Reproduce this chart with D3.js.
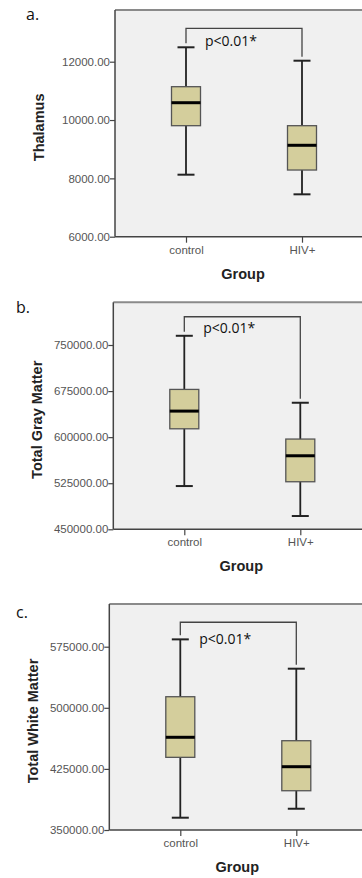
<!DOCTYPE html>
<html lang="en">
<head>
<script src="https://d3js.org/d3.v7.min.js"></script>
<style>
html, body { margin: 0; padding: 0; background: #fff; overflow: hidden; }
svg { display: block; }
svg text { font-family: "Liberation Sans", Arial, sans-serif; }
</style>
</head>
<body>
<script>
// groups on the x axis
var groups = ["control", "HIV+"];

// box stats per group: [min, q1, median, q3, max]
var thalamusStats = [[8126, 9806, 10594, 11143, 12494], [7453, 8286, 9134, 9806, 12034]];
var grayStats = [[520400, 613600, 642400, 677700, 765000], [471600, 527400, 569700, 596900, 656000]];
var whiteStats = [[365100, 439200, 463800, 513600, 584000], [376100, 398200, 427700, 459600, 548000]];

// tick values
var thalamusTicks = [6000, 8000, 10000, 12000];
var grayTicks = [450000, 525000, 600000, 675000, 750000];
var whiteTicks = [350000, 425000, 500000, 575000];

// significance bracket tops (data units)
var bracketTops = [13145, 796000, 605000];
var pLabel = "p<0.01*";

var width = 362, height = 878;
var svg = d3.select("body").append("svg")
  .attr("width", width)
  .attr("height", height);

// panel layout: left edge, frame top, axis bottom, pixel of top tick
var panels = [
  { tag: "a.", title: "Thalamus", stats: thalamusStats, ticks: thalamusTicks, left: 115, top: 10, bottom: 236.7, topTickY: 61.7, tagX: 26, tagY: 20, pDy: 18 },
  { tag: "b.", title: "Total Gray Matter", stats: grayStats, ticks: grayTicks, left: 113.3, top: 302.3, bottom: 529.3, topTickY: 345, tagX: 16, tagY: 313, pDy: 16 },
  { tag: "c.", title: "Total White Matter", stats: whiteStats, ticks: whiteTicks, left: 109.3, top: 604, bottom: 830, topTickY: 646.7, tagX: 16, tagY: 618, pDy: 22 }
];

panels.forEach(function(p, pi) {
  var g = svg.append("g");
  var y = d3.scaleLinear()
    .domain([p.ticks[0], p.ticks[p.ticks.length - 1]])
    .range([p.bottom, p.topTickY]);
  var x = d3.scalePoint()
    .domain(groups)
    .range([p.left + 71, p.left + 187]);

  // plot background, runs off the right edge
  g.append("rect")
    .attr("x", p.left).attr("y", p.top)
    .attr("width", width - p.left).attr("height", p.bottom - p.top)
    .attr("fill", "#f0f0f0");
  g.append("line")
    .attr("x1", p.left).attr("x2", width)
    .attr("y1", p.top).attr("y2", p.top)
    .attr("stroke", "#8a8a8a").attr("stroke-width", 2);

  // y axis
  var yAxis = d3.axisLeft(y).tickValues(p.ticks)
    .tickFormat(d3.format(".2f")).tickSize(5).tickSizeOuter(0);
  var ya = g.append("g")
    .attr("transform", "translate(" + p.left + ",0)")
    .call(yAxis);
  ya.select(".domain").remove();
  ya.append("line").attr("x1", 0).attr("x2", 0)
    .attr("y1", p.top).attr("y2", p.bottom)
    .attr("stroke", "#444").attr("stroke-width", 1.5);
  ya.selectAll(".tick line").attr("stroke", "#444").attr("stroke-width", 1.2);
  ya.selectAll(".tick text")
    .attr("x", -5)
    .attr("fill", "#555")
    .style("font-size", "11.5px");

  // x axis
  var xAxis = d3.axisBottom(x).tickSize(6).tickSizeOuter(0);
  var xa = g.append("g")
    .attr("transform", "translate(0," + p.bottom + ")")
    .call(xAxis);
  xa.select(".domain").remove();
  xa.append("line").attr("x1", p.left).attr("x2", width)
    .attr("y1", 0).attr("y2", 0)
    .attr("stroke", "#444").attr("stroke-width", 1.5);
  xa.selectAll(".tick line").attr("stroke", "#444").attr("stroke-width", 1.2);
  xa.selectAll(".tick text")
    .attr("y", 9)
    .attr("fill", "#555")
    .style("font-size", "11.5px");

  // axis titles
  g.append("text")
    .attr("transform", "translate(" + (p.left - 71) + "," + ((p.top + p.bottom) / 2 + 4) + ") rotate(-90)")
    .attr("text-anchor", "middle")
    .attr("fill", "#222")
    .style("font-size", "14.5px").style("font-weight", "bold")
    .text(p.title);
  g.append("text")
    .attr("x", p.left + 128).attr("y", p.bottom + 42)
    .attr("text-anchor", "middle")
    .attr("fill", "#222")
    .style("font-size", "14.5px").style("font-weight", "bold")
    .text("Group");

  // panel tag
  g.append("text")
    .attr("x", p.tagX).attr("y", p.tagY)
    .attr("fill", "#111")
    .style("font-family", "'Open Sans', sans-serif")
    .style("font-size", "16px")
    .text(p.tag);

  // boxes
  var boxW = 29, capW = 17;
  var box = g.selectAll(".box").data(p.stats).enter().append("g")
    .attr("transform", function(d, i) { return "translate(" + x(groups[i]) + ",0)"; });
  box.append("line")
    .attr("y1", function(d) { return y(d[0]); })
    .attr("y2", function(d) { return y(d[4]); })
    .attr("stroke", "#222").attr("stroke-width", 1.8);
  [0, 4].forEach(function(k) {
    box.append("line")
      .attr("x1", -capW / 2).attr("x2", capW / 2)
      .attr("y1", function(d) { return y(d[k]); })
      .attr("y2", function(d) { return y(d[k]); })
      .attr("stroke", "#222").attr("stroke-width", 2);
  });
  box.append("rect")
    .attr("x", -boxW / 2).attr("width", boxW)
    .attr("y", function(d) { return y(d[3]); })
    .attr("height", function(d) { return y(d[1]) - y(d[3]); })
    .attr("fill", "#d4ce9c").attr("stroke", "#555").attr("stroke-width", 1.3);
  box.append("line")
    .attr("x1", -boxW / 2).attr("x2", boxW / 2)
    .attr("y1", function(d) { return y(d[2]); })
    .attr("y2", function(d) { return y(d[2]); })
    .attr("stroke", "#000").attr("stroke-width", 3);

  // significance bracket
  var bt = y(bracketTops[pi]);
  var x0 = x(groups[0]), x1 = x(groups[1]);
  g.append("path")
    .attr("d", "M" + x0 + "," + (y(p.stats[0][4]) - 4) + "V" + bt + "H" + x1 + "V" + (y(p.stats[1][4]) - 4))
    .attr("fill", "none").attr("stroke", "#444").attr("stroke-width", 1.3);
  g.append("text")
    .attr("x", x0 + 19).attr("y", bt + p.pDy)
    .attr("fill", "#111")
    .style("font-family", "'Open Sans', sans-serif")
    .style("font-size", "14px")
    .text(pLabel);
});
</script>
</body>
</html>
